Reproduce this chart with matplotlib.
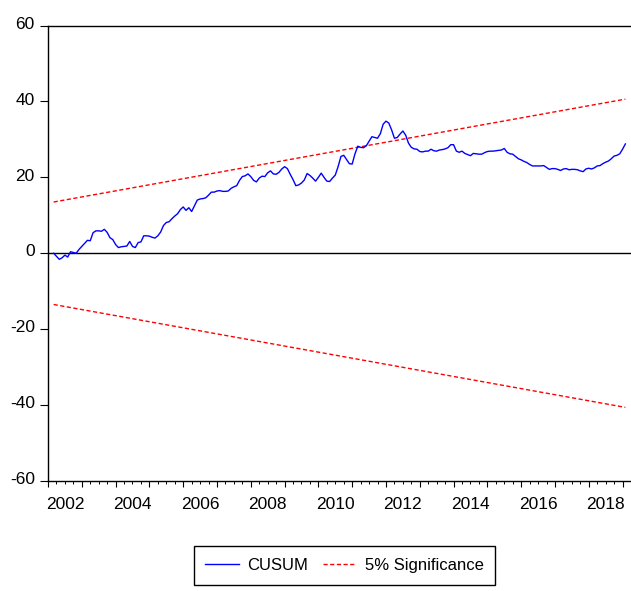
import numpy as np
import pandas as pd
import matplotlib
matplotlib.use("Agg")
import matplotlib.pyplot as plt
from matplotlib.transforms import ScaledTranslation

plt.rcParams['font.family'] = ['Liberation Sans', 'DejaVu Sans']
plt.rcParams['axes.unicode_minus'] = False

# monthly CUSUM of recursive residuals, 2002M03 - 2019M02
START = "2002-03"
cusum = [
    # 2002 (Mar-Dec)
    0.0, -0.8, -1.6, -1.2, -0.5, -1.0, 0.4, 0.2, 0.0, 1.0,
    # 2003
    1.8, 2.6, 3.4, 3.3, 5.4, 5.9, 5.9, 5.8, 6.3, 5.5, 4.1, 3.6,
    # 2004
    2.3, 1.5, 1.7, 1.8, 1.9, 3.1, 1.8, 1.5, 2.8, 3.0, 4.6, 4.6,
    # 2005
    4.5, 4.2, 4.0, 4.6, 5.6, 7.3, 8.1, 8.3, 9.1, 9.8, 10.4, 11.5,
    # 2006
    12.2, 11.3, 12.0, 11.0, 12.5, 14.0, 14.3, 14.4, 14.6, 15.3, 16.1, 16.1,
    # 2007
    16.4, 16.5, 16.3, 16.3, 16.4, 17.1, 17.5, 17.8, 19.2, 20.2, 20.4, 20.9,
    # 2008
    20.2, 19.2, 18.8, 19.8, 20.3, 20.2, 21.2, 21.7, 20.9, 20.8, 21.3, 22.2,
    # 2009
    22.8, 22.3, 20.8, 19.4, 17.8, 18.0, 18.5, 19.3, 21.0, 20.5, 19.8, 19.0,
    # 2010
    20.0, 21.1, 20.0, 19.0, 18.9, 19.8, 20.6, 22.8, 25.5, 25.8, 24.7, 23.6,
    # 2011
    23.5, 26.2, 28.2, 27.9, 27.8, 28.3, 29.5, 30.7, 30.5, 30.3, 31.5, 34.0,
    # 2012
    34.8, 34.3, 32.5, 30.3, 30.5, 31.4, 32.2, 31.1, 29.0, 27.9, 27.5, 27.4,
    # 2013
    26.8, 26.7, 26.9, 26.9, 27.4, 27.0, 26.9, 27.2, 27.3, 27.5, 27.8, 28.6,
    # 2014
    28.6, 26.9, 26.6, 26.9, 26.3, 26.0, 25.7, 26.3, 26.2, 26.1, 26.1, 26.5,
    # 2015
    26.8, 26.9, 26.9, 27.0, 27.1, 27.2, 27.6, 26.6, 26.2, 26.1, 25.5, 24.9,
    # 2016
    24.6, 24.2, 23.9, 23.4, 23.0, 23.0, 23.0, 23.0, 23.1, 22.6, 22.1, 22.3,
    # 2017
    22.3, 22.1, 21.8, 22.2, 22.3, 22.0, 22.1, 22.1, 22.0, 21.7, 21.5, 22.2,
    # 2018
    22.4, 22.2, 22.5, 23.0, 23.1, 23.6, 24.0, 24.3, 24.9, 25.6, 25.8, 26.2,
    # 2019 (Jan-Feb)
    27.4, 28.8,
]

# 5% significance bounds at the first and last observation
sig_start = 13.5
sig_end = 40.6

y_ticks = [-60, -40, -20, 0, 20, 40, 60]
year_labels = list(range(2002, 2019, 2))

dates = pd.date_range(START, periods=len(cusum), freq="MS")
t = np.asarray(dates.year + (dates.month - 1) / 12.0)

fig = plt.figure(figsize=(6.31, 5.91), dpi=100)
ax = fig.add_axes([48 / 631, 110 / 591, 583 / 631, 455.5 / 591])

dash = (0, (3, 1.8))
ax.axhline(0, color="black", lw=1.0, zorder=1)
ax.plot(t, cusum, color="#0000ff", lw=1.0, label="CUSUM", zorder=3)
ax.plot([t[0], t[-1]], [sig_start, sig_end], color="#ff0000", lw=1.0,
        ls=dash, label="5% Significance", zorder=2)
ax.plot([t[0], t[-1]], [-sig_start, -sig_end], color="#ff0000", lw=1.0,
        ls=dash, zorder=2)

ax.set_xlim(t[0], t[-1])
ax.set_ylim(-60, 60)

for side in ["left", "top", "bottom"]:
    ax.spines[side].set_linewidth(1.0)
ax.spines["right"].set_visible(False)

ax.set_yticks(y_ticks)
ax.tick_params(axis="y", length=5.5, width=0.8, pad=4, labelsize=12.5)
# value labels sit a touch above their ticks
lift = ScaledTranslation(0, 2 / 72, fig.dpi_scale_trans)
for lab in ax.get_yticklabels():
    lab.set_transform(lab.get_transform() + lift)

ax.set_xticks(range(2002, 2020))
ax.set_xticks(np.arange(2002, 2019.3, 0.25), minor=True)
ax.tick_params(axis="x", which="major", length=4.5, width=0.8, labelbottom=False)
ax.tick_params(axis="x", which="minor", length=2.5, width=0.7)

# year labels sit in the middle of each year
for yr in year_labels:
    ax.annotate(str(yr), xy=(yr + 0.5, 0), xycoords=("data", "axes fraction"),
                xytext=(0, -16), textcoords="offset pixels",
                ha="center", va="top", fontsize=12.5, annotation_clip=False)

leg = fig.legend(loc="center", bbox_to_anchor=(0.546, 0.043), ncol=2,
                 frameon=True, fancybox=False, edgecolor="black", framealpha=1,
                 fontsize=12, handlelength=2.0, handletextpad=0.5,
                 columnspacing=0.9, borderpad=0.7)
leg.get_frame().set_linewidth(1.0)

fig.savefig("out.png", dpi=100)
